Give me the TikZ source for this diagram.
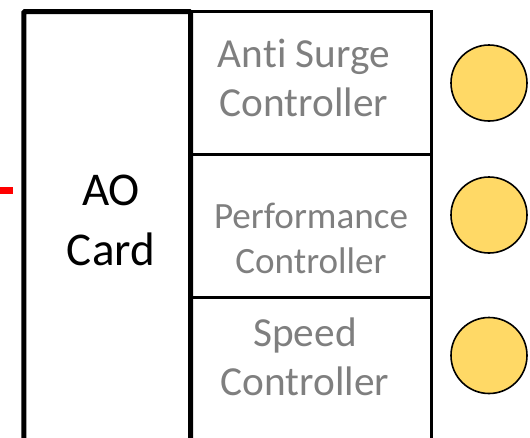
\documentclass[tikz,border=0pt]{standalone}
\usepackage{fontspec}
\setmainfont{Carlito}[Ligatures={NoCommon}]
\definecolor{txtgray}{RGB}{127,127,127}
\definecolor{bulb}{RGB}{255,217,102}
\definecolor{sigred}{RGB}{255,0,0}
\begin{document}
\begin{tikzpicture}[x=1pt,y=-1pt,
  cardbox/.style={draw=black,line width=5pt,rounded corners=1pt},
  ctrlbox/.style={draw=black,line width=2.4pt},
  ctrltext/.style={text=txtgray,align=center,anchor=base,inner sep=0pt},
  cardtext/.style={text=black,align=center,anchor=base,inner sep=0pt},
  lamp/.style={circle,draw=black,line width=1.6pt,fill=bulb,minimum size=76pt,inner sep=0pt},
  sigline/.style={draw=sigred,line width=7pt}]
\useasboundingbox (0,0) rectangle (530,437);
\clip (0,0) rectangle (530,437);
% controller boxes
\draw[ctrlbox] (190.5,11.3) rectangle (431.5,154.5);
\draw[ctrlbox] (190.5,154.5) rectangle (431.5,297.5);
\draw[ctrlbox] (190.5,297.5) rectangle (431.5,445);
% AO card
\draw[cardbox] (23.8,11.7) rectangle (190.5,450);
% texts (anchor base = baseline of last line)
\node[cardtext,font=\fontsize{47}{60}\selectfont] (card) at (111,265) {AO\\Card};
\node[ctrltext,font=\fontsize{41.3}{49}\selectfont] (anti) at (304,116.7) {Anti Surge\\Controller};
\node[ctrltext,font=\fontsize{37.1}{45}\selectfont] (perf) at (311,273) {Performance\\Controller};
\node[ctrltext,font=\fontsize{41.3}{48.3}\selectfont] (speed) at (305,395) {Speed\\Controller};
% lamps
\node[lamp] (l1) at (489,83) {};
\node[lamp] (l2) at (489,215) {};
\node[lamp] (l3) at (489,355.5) {};
% red signal
\coordinate (s0) at (0,190.5);
\coordinate (s1) at (13,190.5);
\draw[sigline] (s0) -- (s1);
\end{tikzpicture}
\end{document}
